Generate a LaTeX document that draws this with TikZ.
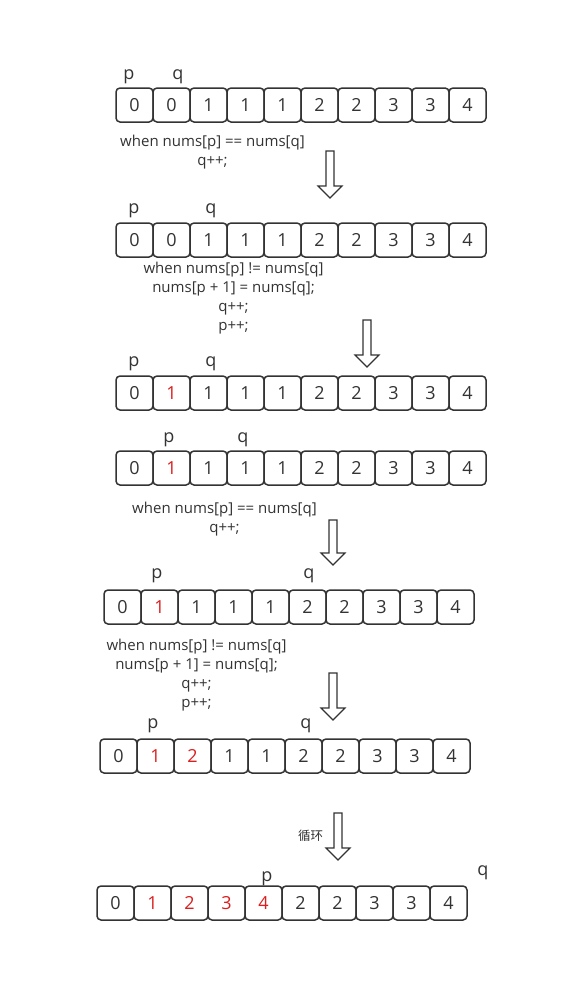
\documentclass[tikz,border=0pt]{standalone}
\usepackage{fontspec}
\setmainfont{Open Sans}
\newfontfamily\cjk{Noto Sans CJK SC}
\definecolor{ink}{RGB}{51,51,51}
\definecolor{hot}{RGB}{220,30,30}
\begin{document}
\begin{tikzpicture}[x=1pt, y=-1pt, line width=1.5pt,
	cell/.style={draw=ink, rounded corners=4pt, minimum width=37pt, minimum height=34pt, inner sep=0pt, text=ink, font=\fontsize{18}{18}\selectfont},
	ptr/.style={anchor=base, inner sep=0pt, text=ink, font=\fontsize{18}{18}\selectfont},
	code/.style={align=center, anchor=base, inner sep=0pt, text=ink, font=\fontsize{15}{19}\selectfont},
	stepArrow/.style={draw=ink, line width=1.2pt, fill=white}]
		\useasboundingbox (0,0) rectangle (560,983);
		
		%arrays
		\foreach \r/\x/\y/\red/\vals in {
			1/116/105/0/{0,0,1,1,1,2,2,3,3,4},
			2/116/240/0/{0,0,1,1,1,2,2,3,3,4},
			3/116/393/1/{0,1,1,1,1,2,2,3,3,4},
			4/116/468/1/{0,1,1,1,1,2,2,3,3,4},
			5/104/607/1/{0,1,1,1,1,2,2,3,3,4},
			6/100/756/2/{0,1,2,1,1,2,2,3,3,4},
			7/97/903/4/{0,1,2,3,4,2,2,3,3,4}}{
			\foreach \v [count=\i] in \vals{
				\ifnum\i>1 \ifnum\i<\numexpr\red+2\relax
					\node[cell, text=hot] (c\r-\i) at (\x+37*\i-18.5, \y){\v};
				\else
					\node[cell] (c\r-\i) at (\x+37*\i-18.5, \y){\v};
				\fi
				\else
					\node[cell] (c\r-\i) at (\x+37*\i-18.5, \y){\v};
				\fi
			}
		}
		
		%pointers
		\foreach \r/\px/\py/\qx/\qy in {1/129/79/178/79, 2/134/213/211/213, 3/134/366/211/366,
			4/169/442/243/442, 5/157/578/309/578, 6/153/728/306/728, 7/267/881/483/875}{
			\node[ptr] (p\r) at (\px, \py){p};
			\node[ptr] (q\r) at (\qx, \qy){q};
		}
		
		%rules (base = last line)
		\node[code] (t1) at (212.5, 165){when nums[p] == nums[q]\\q++;};
		\node[code] (t2) at (233.5, 330){when nums[p] != nums[q]\\nums[p + 1] = nums[q];\\q++;\\p++;};
		\node[code] (t3) at (224.5, 532){when nums[p] == nums[q]\\q++;};
		\node[code] (t4) at (196.5, 707){when nums[p] != nums[q]\\nums[p + 1] = nums[q];\\q++;\\p++;};
		\node[text=ink, inner sep=0pt, font=\cjk\fontsize{12.5}{12.5}\selectfont] (loop) at (310.5, 835.5){循环};
		
		%step arrows
		\foreach \n/\x/\y/\l in {a1/330/151/47, a2/367/320/47, a3/333/520/45, a4/333/673/47, a5/338/813/47}{
			\coordinate (\n) at (\x, \y);
			\draw[stepArrow] (\n) ++(-4,0) -- ++(0,\l-12) -- ++(-8,0) -- ++(12,12) -- ++(12,-12) -- ++(-8,0) -- ++(0,-\l+12) -- cycle;
		}
\end{tikzpicture}
\end{document}
